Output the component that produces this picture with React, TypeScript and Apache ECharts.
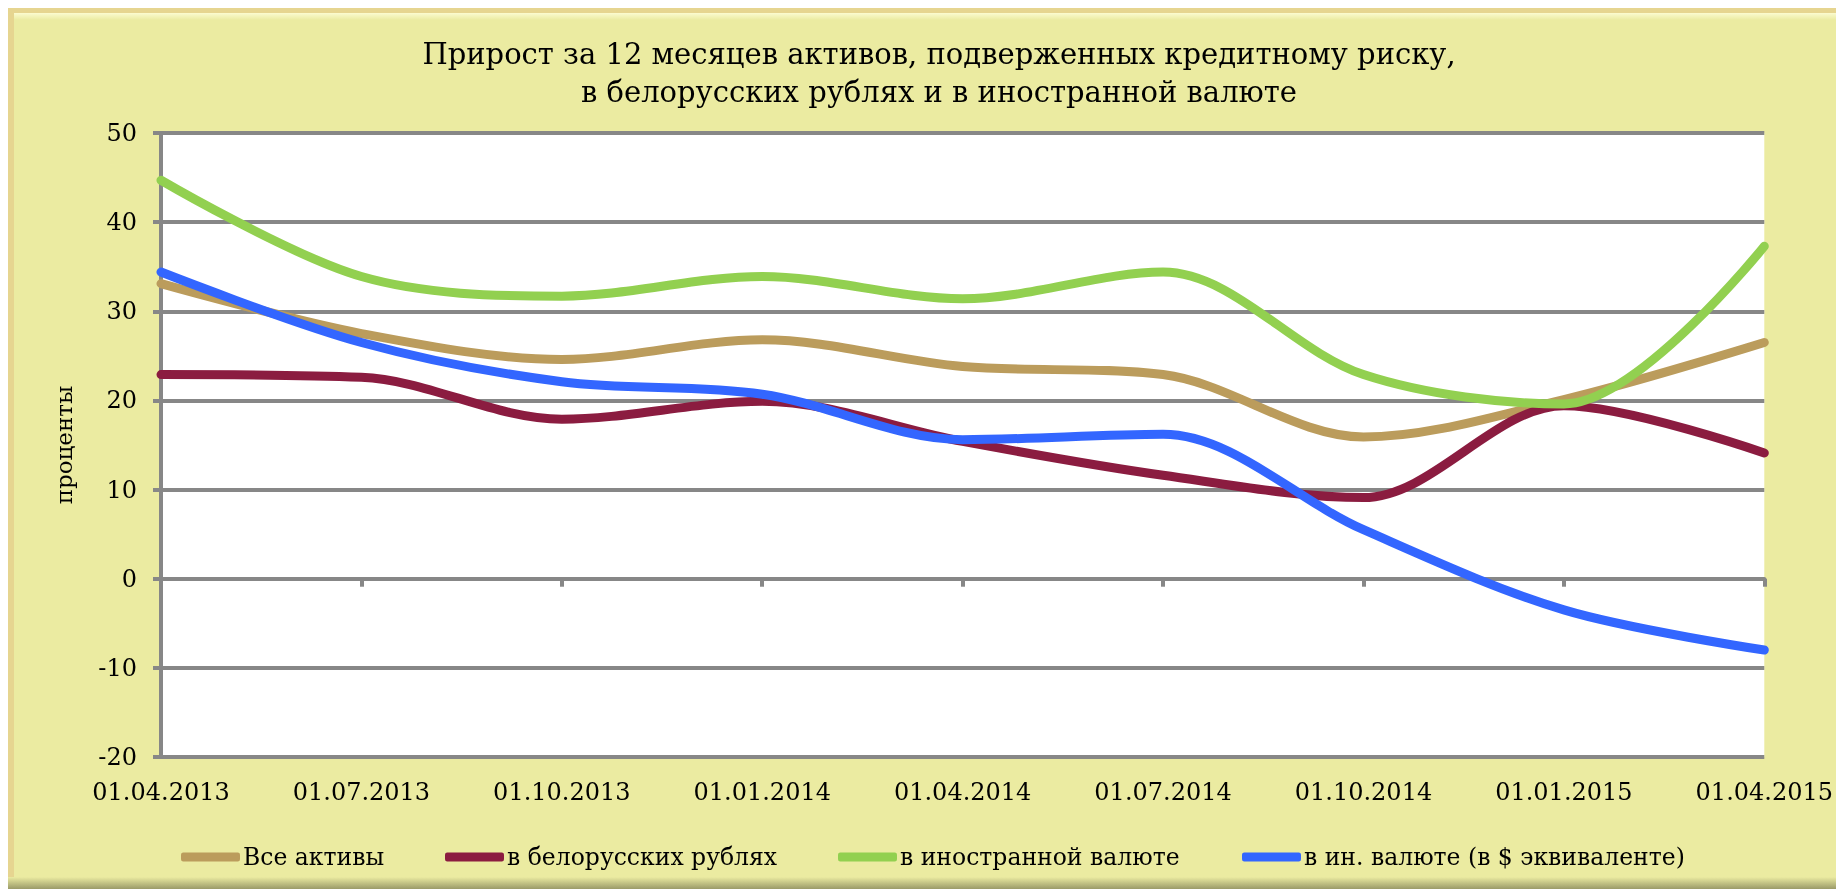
import React, { useEffect, useRef } from "react";
import * as echarts from "echarts";

const dates = [
  "01.04.2013", "01.07.2013", "01.10.2013", "01.01.2014", "01.04.2014",
  "01.07.2014", "01.10.2014", "01.01.2015", "01.04.2015",
];
const allAssets = [33.1, 27.5, 24.6, 26.8, 23.8, 22.9, 15.9, 20.1, 26.5];
const byr = [22.9, 22.6, 17.9, 19.9, 15.4, 11.6, 9.1, 19.4, 14.1];
const foreign = [44.7, 33.9, 31.7, 33.9, 31.4, 34.4, 22.9, 19.6, 37.3];
const foreignUsd = [34.4, 26.5, 22.1, 20.7, 15.6, 16.2, 5.5, -3.5, -8.0];
const yTicks = { min: -20, max: 50, interval: 10 };

const seriesNames = [
  "Все активы",
  "в белорусских рублях",
  "в иностранной валюте",
  "в ин. валюте (в $ эквиваленте)",
];
const seriesData = [allAssets, byr, foreign, foreignUsd];
const colors = ["#BB9C5C", "#8B1C40", "#92D050", "#3366FF"];
const legendLeft = [181, 445, 838, 1242];

const FONT = "DejaVu Serif";
const GRID_COLOR = "#878787";

export default function App() {
  const ref = useRef<HTMLDivElement>(null);
  useEffect(() => {
    if (!ref.current) return;
    const chart = echarts.init(ref.current, undefined, { renderer: "svg" });
    const option: any = {
      animation: false,
      backgroundColor: "transparent",
      title: {
        text: "Прирост за 12 месяцев активов, подверженных кредитному риску,\nв белорусских рублях и в иностранной валюте",
        left: 934,
        textAlign: "center",
        top: 30,
        textStyle: {
          fontFamily: FONT,
          fontSize: 29,
          fontWeight: "normal",
          color: "#000",
          lineHeight: 38,
        },
      },
      graphic: [
        { type: "rect", z: -10, shape: { x: 8, y: 8, width: 1840, height: 900 }, style: { fill: "#E6D590" } },
        { type: "rect", z: -9, shape: { x: 14, y: 13, width: 1840, height: 900 }, style: { fill: "#EBEBA1" } },
        {
          type: "rect", z: -8, shape: { x: 14, y: 13, width: 1840, height: 7 },
          style: {
            fill: new echarts.graphic.LinearGradient(0, 0, 0, 1, [
              { offset: 0, color: "#FBFBD0" },
              { offset: 1, color: "#EBEBA1" },
            ]),
          },
        },
        {
          type: "rect", z: -8, shape: { x: 8, y: 877, width: 1840, height: 12 },
          style: {
            fill: new echarts.graphic.LinearGradient(0, 0, 0, 1, [
              { offset: 0, color: "#EBEBA1" },
              { offset: 1, color: "#9A9A68" },
            ]),
          },
        },
      ],
      legend: seriesNames.map((n, i) => ({
        data: [n],
        left: legendLeft[i],
        top: 845,
        icon: "roundRect",
        itemWidth: 59,
        itemHeight: 9,
        itemGap: 0,
        padding: 0,
        textStyle: { fontFamily: FONT, fontSize: 23.5, color: "#000", padding: [0, 0, 0, -2] },
      })),
      grid: {
        left: 161,
        top: 133,
        width: 1612,
        height: 624,
        show: true,
        backgroundColor: "#FFFFFF",
        borderWidth: 0,
      },
      xAxis: [
        {
          type: "category",
          data: dates,
          boundaryGap: false,
          position: "bottom",
          axisLine: { show: false, onZero: false },
          axisTick: { show: false },
          splitLine: { show: false },
          axisLabel: { fontFamily: FONT, fontSize: 24, color: "#000", margin: 23 },
        },
        {
          type: "category",
          data: dates,
          boundaryGap: false,
          position: "bottom",
          axisLine: { show: true, onZero: true, lineStyle: { color: GRID_COLOR, width: 4 } },
          axisTick: { show: true, length: 8, lineStyle: { color: GRID_COLOR, width: 4 } },
          axisLabel: { show: false },
          splitLine: { show: false },
        },
      ],
      yAxis: {
        type: "value",
        min: yTicks.min,
        max: yTicks.max,
        interval: yTicks.interval,
        name: "проценты",
        nameLocation: "middle",
        nameRotate: 90,
        nameGap: 86,
        nameTextStyle: { fontFamily: FONT, fontSize: 23, color: "#000" },
        axisLine: { show: true, lineStyle: { color: GRID_COLOR, width: 4 } },
        axisTick: { show: true, length: 8, lineStyle: { color: GRID_COLOR, width: 4 } },
        splitLine: { show: true, lineStyle: { color: GRID_COLOR, width: 4 } },
        axisLabel: { fontFamily: FONT, fontSize: 24, color: "#000", margin: 24 },
      },
      series: seriesNames.map((n, i) => ({
        name: n,
        type: "line",
        xAxisIndex: 0,
        data: seriesData[i],
        smooth: 0.33,
        showSymbol: false,
        symbol: "none",
        lineStyle: { color: colors[i], width: 9, cap: "round" },
        itemStyle: { color: colors[i] },
        z: 3 + i,
      })),
    };
    chart.setOption(option);
    return () => chart.dispose();
  }, []);
  return (
    <div
      ref={ref}
      style={{ position: "fixed", left: 0, top: 0, width: 1836, height: 889 }}
    />
  );
}
